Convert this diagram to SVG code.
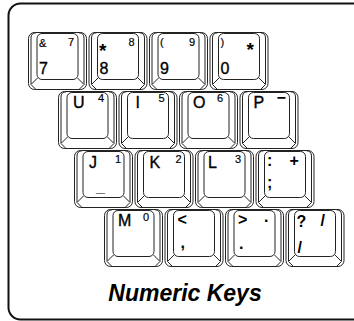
<svg xmlns="http://www.w3.org/2000/svg" xmlns:xlink="http://www.w3.org/1999/xlink" width="354" height="321" viewBox="0 0 354 321">
<style>
.ln{fill:none;stroke:#222;stroke-width:1}
.big{font-family:"Liberation Sans",Arial,sans-serif;font-size:16px;fill:#000;stroke:#000;stroke-width:0.35}
.sm{font-family:"Liberation Sans",Arial,sans-serif;font-size:11px;fill:#000;stroke:#000;stroke-width:0.2}
.sym{font-family:"Liberation Sans",Arial,sans-serif;font-size:16px;font-weight:bold;fill:#000}
.ast{font-family:"Liberation Sans",Arial,sans-serif;font-size:19px;font-weight:bold;fill:#000}
.cap{font-family:"Liberation Sans",Arial,sans-serif;font-size:23px;font-weight:bold;font-style:italic;fill:#000}
</style>
<defs>
<g id="keycap">
<rect class="ln" x="0.5" y="0.5" width="58" height="57" rx="6"/>
<path class="ln" d="M3,52 V6 Q3,1 8,0.8 M56,52 V6 Q56,1 51,0.8"/>
<rect class="ln" x="9" y="1.5" width="41" height="46" rx="5"/>
<path class="ln" d="M9.5,46 L3,52.5 L8,57.5 M49.5,46 L56,52.5 L51,57.5"/>
</g>
</defs>
<rect x="8.5" y="3.5" width="370" height="316" rx="12" fill="#fff" stroke="#111" stroke-width="2"/>
<g id="key-7" transform="translate(28,32)"><use xlink:href="#keycap"/><text class="sm" x="11" y="15">&amp;</text><text class="sm" x="40" y="14">7</text><text class="big" x="11" y="42">7</text></g>
<g id="key-8" transform="translate(88.5,32)"><use xlink:href="#keycap"/><text class="ast" x="10.5" y="25">*</text><text class="sm" x="40" y="14">8</text><text class="big" x="11" y="42">8</text></g>
<g id="key-9" transform="translate(149,32)"><use xlink:href="#keycap"/><text class="sm" x="11" y="14">(</text><text class="sm" x="40" y="14">9</text><text class="big" x="11" y="42">9</text></g>
<g id="key-0" transform="translate(209.5,32)"><use xlink:href="#keycap"/><text class="sm" x="11" y="14">)</text><text class="ast" x="37" y="24">*</text><text class="big" x="11" y="42">0</text></g>
<g id="key-U" transform="translate(58,91)"><use xlink:href="#keycap"/><text class="big" x="15" y="17">U</text><text class="sm" x="40" y="11">4</text></g>
<g id="key-I" transform="translate(118.5,91)"><use xlink:href="#keycap"/><text class="big" x="17" y="17">I</text><text class="sm" x="40" y="11">5</text></g>
<g id="key-O" transform="translate(179,91)"><use xlink:href="#keycap"/><text class="big" x="14" y="17">O</text><text class="sm" x="38" y="11">6</text></g>
<g id="key-P" transform="translate(239.5,91)"><use xlink:href="#keycap"/><text class="big" x="14" y="17">P</text><text class="sym" x="37" y="12">−</text></g>
<g id="key-J" transform="translate(74,150)"><use xlink:href="#keycap"/><text class="big" x="15" y="18">J</text><text class="sm" x="41" y="13">1</text><text class="sym" x="22" y="42">_</text></g>
<g id="key-K" transform="translate(134.5,150)"><use xlink:href="#keycap"/><text class="big" x="15" y="18">K</text><text class="sm" x="41" y="13">2</text></g>
<g id="key-L" transform="translate(195,150)"><use xlink:href="#keycap"/><text class="big" x="13" y="18">L</text><text class="sm" x="40" y="13">3</text></g>
<g id="key-colon" transform="translate(255.5,150)"><use xlink:href="#keycap"/><text class="sym" x="11.5" y="16">:</text><text class="sym" x="34" y="16">+</text><text class="sym" x="11.5" y="38">;</text></g>
<g id="key-M" transform="translate(104,209)"><use xlink:href="#keycap"/><text class="big" x="14" y="17">M</text><text class="sm" x="39" y="12">0</text></g>
<g id="key-comma" transform="translate(164.5,209)"><use xlink:href="#keycap"/><text class="sym" x="13" y="16">&lt;</text><text class="sym" x="16" y="39">,</text></g>
<g id="key-period" transform="translate(225,209)"><use xlink:href="#keycap"/><text class="sym" x="13" y="16">&gt;</text><text class="sym" x="39" y="13">.</text><text class="sym" x="14" y="40">.</text></g>
<g id="key-slash" transform="translate(285.5,209)"><use xlink:href="#keycap"/><text class="sym" x="11" y="18">?</text><text class="sym" x="35" y="17">/</text><text class="sym" x="12" y="44">/</text></g>
<g id="connectors"></g>
<text class="cap" x="185" y="301" text-anchor="middle">Numeric Keys</text>
</svg>
